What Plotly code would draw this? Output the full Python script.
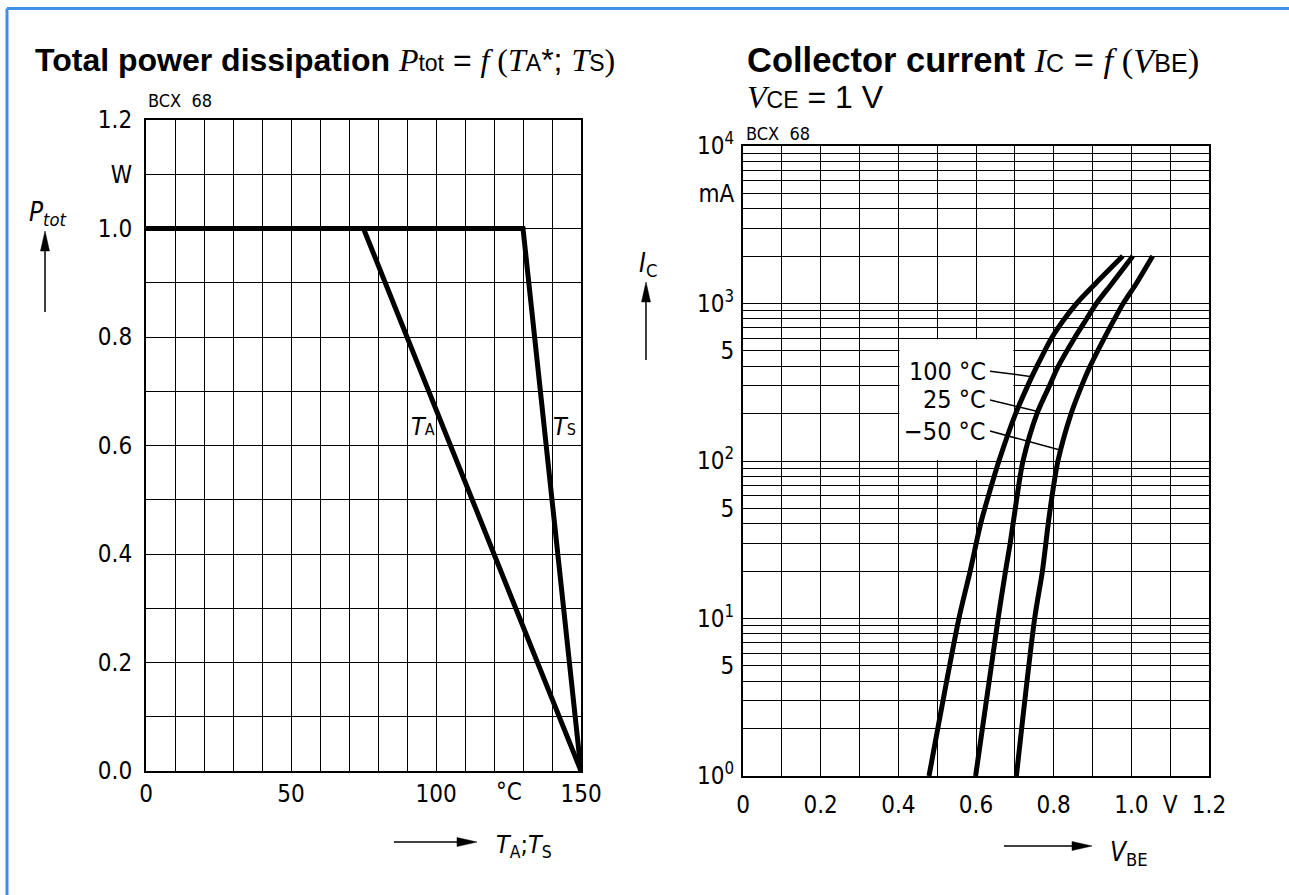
import numpy as np
import plotly.graph_objects as go

W, H = 1289, 895

# ---------------- Left chart data: total power dissipation ----------------
TEMP_TA = [0, 75, 150]
PTOT_TA = [1.0, 1.0, 0.0]
TEMP_TS = [0, 130, 150]
PTOT_TS = [1.0, 1.0, 0.0]

LEFT_X_GRID = list(range(0, 151, 10))
LEFT_X_TEXT = {0: "0", 50: "50", 100: "100", 150: "150"}
LEFT_Y_GRID = [round(0.1 * i, 1) for i in range(13)]
LEFT_Y_TEXT = {0.0: "0.0", 0.2: "0.2", 0.4: "0.4", 0.6: "0.6", 0.8: "0.8",
               1.0: "1.0", 1.1: "W", 1.2: "1.2"}

# ---------------- Right chart data: collector current vs VBE ----------------
IC_100 = [1, 10, 20, 40, 65, 100, 200, 300, 400, 600, 800, 1000, 1340, 2000]
VBE_100 = [0.479, 0.556, 0.585, 0.612, 0.636, 0.659, 0.702, 0.733, 0.757, 0.794, 0.828, 0.859, 0.908, 0.978]

IC_25 = [1, 10, 20, 30, 65, 100, 200, 300, 400, 600, 800, 1000, 1340, 2000]
VBE_25 = [0.599, 0.657, 0.676, 0.688, 0.708, 0.721, 0.757, 0.789, 0.812, 0.853, 0.885, 0.910, 0.950, 1.004]

IC_M50 = [1, 10, 20, 40, 65, 100, 200, 300, 400, 600, 800, 1000, 1340, 2000]
VBE_M50 = [0.704, 0.751, 0.771, 0.786, 0.798, 0.811, 0.845, 0.872, 0.894, 0.930, 0.957, 0.979, 1.013, 1.055]

CURVE_LABELS = ["100 °C", "25 °C", "\u221250 °C"]

RIGHT_X_GRID = [round(0.1 * i, 1) for i in range(13)]
RIGHT_X_TEXT = {0.0: "0", 0.2: "0.2", 0.4: "0.4", 0.6: "0.6", 0.8: "0.8", 1.0: "1.0",
                1.1: "V", 1.2: "1.2"}
RIGHT_Y_GRID = [m * 10 ** d for d in range(4) for m in range(1, 10)] + [10000]
RIGHT_Y_TEXT = {1: "10<sup>0</sup>", 5: "5", 10: "10<sup>1</sup>", 50: "5", 100: "10<sup>2</sup>",
                500: "5", 1000: "10<sup>3</sup>", 5000: "mA", 10000: "10<sup>4</sup>"}

SANS = "Liberation Sans, Arial, sans-serif"
SERIF = "Liberation Serif, Times New Roman, serif"
COND = "DejaVu Sans Condensed, Liberation Sans Narrow, DejaVu Sans, sans-serif"
BLUE = "#3f8fe8"


def px(x):
    return x / W


def py(y):
    return 1 - y / H


fig = go.Figure()

# left chart curves
fig.add_trace(go.Scatter(x=TEMP_TA, y=PTOT_TA, mode="lines", line=dict(color="black", width=5),
                         xaxis="x", yaxis="y", hoverinfo="skip"))
fig.add_trace(go.Scatter(x=TEMP_TS, y=PTOT_TS, mode="lines", line=dict(color="black", width=5),
                         xaxis="x", yaxis="y", hoverinfo="skip"))

# white label box on right chart (hides the grid behind the temperature labels)
fig.add_trace(go.Scatter(x=[0.403, 0.696, 0.696, 0.403, 0.403], y=[101.5, 101.5, 592, 592, 101.5],
                         mode="lines", fill="toself", fillcolor="white", line=dict(width=0),
                         xaxis="x2", yaxis="y2", hoverinfo="skip"))

curves = [(VBE_100, IC_100), (VBE_25, IC_25), (VBE_M50, IC_M50)]
for vx, iy in curves:
    fig.add_trace(go.Scatter(x=vx, y=iy, mode="lines",
                             line=dict(color="black", width=5, shape="spline", smoothing=0.8),
                             xaxis="x2", yaxis="y2", hoverinfo="skip"))

# leader lines from labels to curves
label_x = 0.636
label_ic = [372, 244, 155]
touch_ic = [343, 206, 117]
for (vx, iy), li, ti in zip(curves, label_ic, touch_ic):
    tx = float(np.interp(np.log10(ti), np.log10(iy), vx))
    fig.add_trace(go.Scatter(x=[label_x, tx], y=[li, ti], mode="lines",
                             line=dict(color="black", width=1.5),
                             xaxis="x2", yaxis="y2", hoverinfo="skip"))

axis_common = dict(showgrid=True, gridcolor="black", gridwidth=1.4, zeroline=False,
                   showline=True, linecolor="black", linewidth=2, mirror=True, ticks="",
                   automargin=False,
                   tickfont=dict(family=COND, size=24, color="black"), fixedrange=True)

fig.update_layout(
    width=W, height=H, margin=dict(l=0, r=0, t=0, b=0, pad=0, autoexpand=False),
    paper_bgcolor="white", plot_bgcolor="white", showlegend=False,
    font=dict(family=SANS, color="black"),
    xaxis=dict(axis_common, domain=[px(146), px(581)], range=[0, 150], anchor="y",
               tickvals=LEFT_X_GRID, ticktext=[LEFT_X_TEXT.get(v, "") for v in LEFT_X_GRID],
               ticklabelstandoff=0),
    yaxis=dict(axis_common, domain=[py(771), py(120)], range=[0, 1.2], anchor="x",
               tickvals=LEFT_Y_GRID, ticktext=[LEFT_Y_TEXT.get(v, "") for v in LEFT_Y_GRID],
               ticklabelstandoff=7),
    xaxis2=dict(axis_common, domain=[px(743), px(1209)], range=[0, 1.2], anchor="y2",
                tickvals=RIGHT_X_GRID, ticktext=[RIGHT_X_TEXT.get(v, "") for v in RIGHT_X_GRID],
                ticklabelstandoff=6),
    yaxis2=dict(axis_common, domain=[py(776), py(146)], type="log", range=[0, 4], anchor="x2",
                tickvals=RIGHT_Y_GRID, ticktext=[RIGHT_Y_TEXT.get(v, "") for v in RIGHT_Y_GRID],
                ticklabelstandoff=2),
)

ann = []
sub = "font-size:23px"
left_title = ("<b>Total power dissipation</b> "
              f"<span style=\"font-family:{SERIF}\"><i>P</i></span><span style=\"{sub}\">tot</span> = "
              f"<span style=\"font-family:{SERIF}\"><i>f</i> (<i>T</i></span><span style=\"{sub}\">A</span>*; "
              f"<span style=\"font-family:{SERIF}\"><i>T</i></span><span style=\"{sub}\">S</span>"
              f"<span style=\"font-family:{SERIF}\">)</span>")
ann.append(dict(text=left_title, x=px(33), y=py(60), xref="paper", yref="paper", xanchor="left",
                yanchor="middle", showarrow=False, font=dict(family=SANS, size=32)))
sub2 = "font-size:25px"
right_title = ("<b>Collector current</b> "
               f"<span style=\"font-family:{SERIF}\"><i>I</i></span><span style=\"{sub2}\">C</span> = "
               f"<span style=\"font-family:{SERIF}\"><i>f</i> (<i>V</i></span><span style=\"{sub2}\">BE</span>"
               f"<span style=\"font-family:{SERIF}\">)</span>")
ann.append(dict(text=right_title, x=px(745), y=py(61), xref="paper", yref="paper", xanchor="left",
                yanchor="middle", showarrow=False, font=dict(family=SANS, size=34.5)))
ann.append(dict(text=f"<span style=\"font-family:{SERIF}\"><i>V</i></span><span style=\"{sub}\">CE</span> = 1 V",
                x=px(745), y=py(97), xref="paper", yref="paper", xanchor="left",
                yanchor="middle", showarrow=False, font=dict(family=SANS, size=32)))

# part number labels
ann.append(dict(text="BCX  68", x=px(146), y=py(100), xref="paper", yref="paper", xanchor="left",
                yanchor="middle", showarrow=False, font=dict(family=COND, size=18)))
ann.append(dict(text="BCX  68", x=px(744), y=py(133), xref="paper", yref="paper", xanchor="left",
                yanchor="middle", showarrow=False, font=dict(family=COND, size=18)))

# unit label on left x axis
ann.append(dict(text="°C", x=125, y=py(792), xref="x", yref="paper", xanchor="center",
                yanchor="middle", showarrow=False, font=dict(family=COND, size=24)))

# curve labels on left chart
ann.append(dict(text="<i>T</i><span style=\"font-size:16px\">A</span>", x=95.5, y=0.635, xref="x", yref="y",
                xanchor="center", yanchor="middle", showarrow=False, font=dict(family=COND, size=25)))
ann.append(dict(text="<i>T</i><span style=\"font-size:16px\">S</span>", x=144.3, y=0.635, xref="x", yref="y",
                xanchor="center", yanchor="middle", showarrow=False, font=dict(family=COND, size=25)))

# temperature labels on right chart
for txt, li in zip(CURVE_LABELS, label_ic):
    ann.append(dict(text=txt, x=label_x - 0.004, y=np.log10(li), xref="x2", yref="y2", xanchor="right",
                    yanchor="middle", showarrow=False, font=dict(family=COND, size=25)))

# axis names
ann.append(dict(text="<i>P</i><sub><i>tot</i></sub>", x=px(48), y=py(214), xref="paper", yref="paper",
                xanchor="center", yanchor="middle", showarrow=False, font=dict(family=COND, size=26)))
ann.append(dict(text="<i>I</i><sub>C</sub>", x=px(648), y=py(265), xref="paper", yref="paper",
                xanchor="center", yanchor="middle", showarrow=False, font=dict(family=COND, size=26)))
ann.append(dict(text="<i>T</i><sub>A</sub>;<i>T</i><sub>S</sub>", x=px(494), y=py(846), xref="paper",
                yref="paper", xanchor="left", yanchor="middle", showarrow=False, font=dict(family=COND, size=25)))
ann.append(dict(text="<i>V</i><sub>BE</sub>", x=px(1108), y=py(853), xref="paper",
                yref="paper", xanchor="left", yanchor="middle", showarrow=False, font=dict(family=COND, size=26)))

shapes = []


def arrow(x0, y0, x1, y1, head=20, half=4.5):
    # line from (x0,y0) tail to (x1,y1) tip in pixel coordinates
    dx, dy = x1 - x0, y1 - y0
    L = (dx ** 2 + dy ** 2) ** 0.5
    ux, uy = dx / L, dy / L
    bx, by = x1 - ux * head, y1 - uy * head
    shapes.append(dict(type="line", xref="paper", yref="paper", x0=px(x0), y0=py(y0),
                       x1=px(bx + ux * 2), y1=py(by + uy * 2), line=dict(color="black", width=1.5)))
    p1 = (bx - uy * half, by + ux * half)
    p2 = (bx + uy * half, by - ux * half)
    path = (f"M {px(x1)} {py(y1)} L {px(p1[0])} {py(p1[1])} L {px(p2[0])} {py(p2[1])} Z")
    shapes.append(dict(type="path", xref="paper", yref="paper", path=path,
                       fillcolor="black", line=dict(color="black", width=0.5)))


arrow(45, 312, 45, 231)
arrow(646, 360, 646, 282)
arrow(394, 842, 477, 842)
arrow(1004, 846, 1092, 846)

# blue page frame
shapes.append(dict(type="line", xref="paper", yref="paper", x0=px(7), y0=py(8.5), x1=1, y1=py(8.5),
                   line=dict(color=BLUE, width=3)))
shapes.append(dict(type="line", xref="paper", yref="paper", x0=px(7), y0=py(8.5), x1=px(7), y1=0,
                   line=dict(color=BLUE, width=3)))

fig.update_layout(annotations=ann, shapes=shapes)

fig.write_html("out.html", config={"displayModeBar": False},
               post_script="document.body.style.margin='0';document.body.style.overflow='hidden';")
